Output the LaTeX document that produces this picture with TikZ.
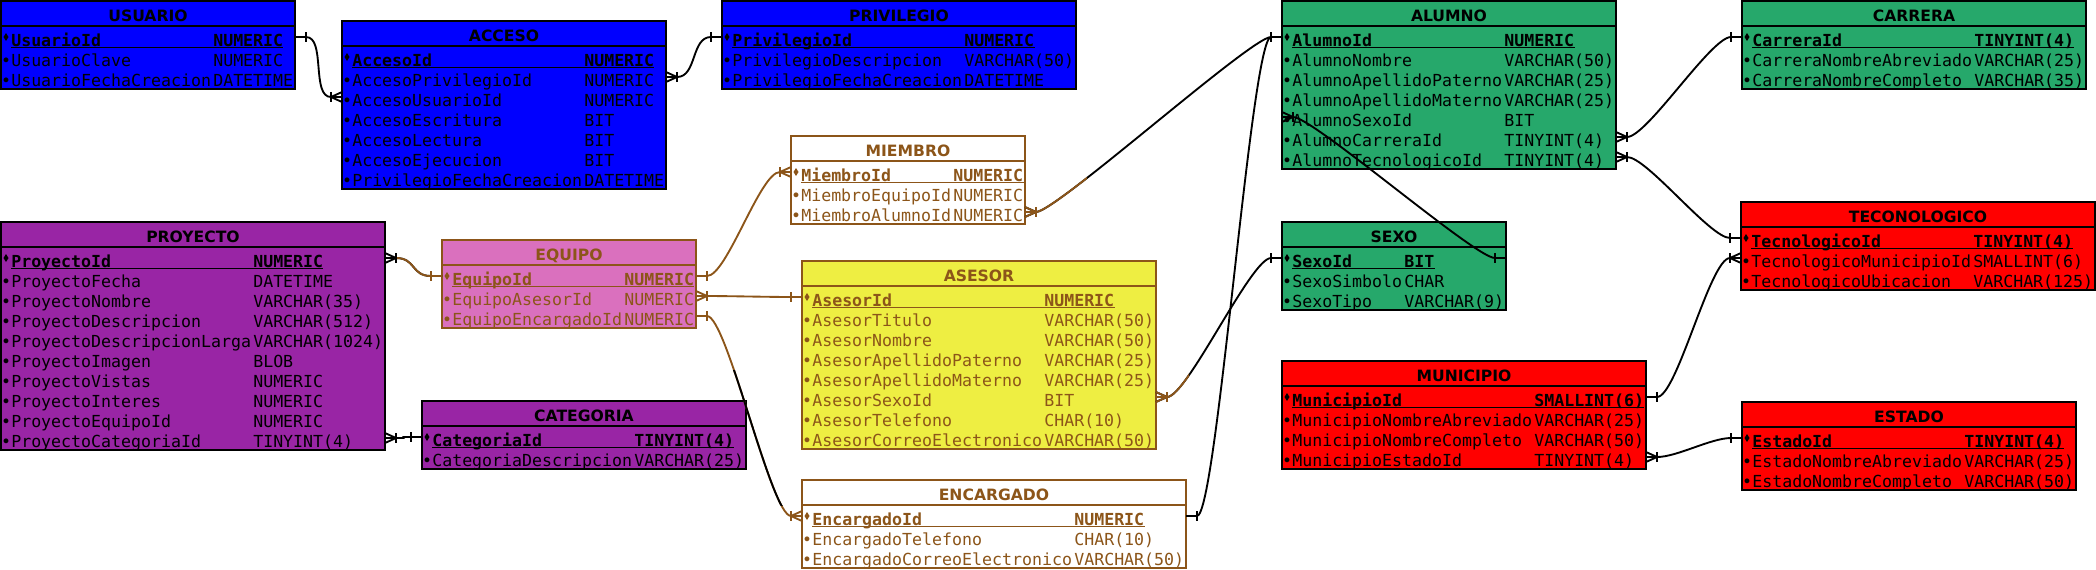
\documentclass[tikz,border=0pt]{standalone}
\usepackage{fontspec}
\setsansfont{DejaVu Sans}
\setmonofont{DejaVu Sans Mono}
\usetikzlibrary{calc}

\definecolor{tabblue}{RGB}{0,0,255}
\definecolor{tabgreen}{RGB}{38,168,107}
\definecolor{tabpurple}{RGB}{153,37,165}
\definecolor{tabpink}{RGB}{218,112,190}
\definecolor{tabyellow}{RGB}{238,238,66}
\definecolor{tabred}{RGB}{255,0,0}
\definecolor{tabbrown}{RGB}{140,85,25}

\tikzset{
  tabframe/.style = {draw, line width = 1.5pt, anchor = north west, inner sep = 0pt, outer sep = 0pt},
  tabtitle/.style = {anchor = base, inner sep = 0pt, font = \sffamily\bfseries\fontsize{11.7}{14}\selectfont},
  tabrow/.style = {inner sep = 0pt, outer sep = 0pt, minimum height = 12pt},
  tabfield/.style = {anchor = base west, inner sep = 0pt, font = \ttfamily\fontsize{12.45}{15}\selectfont},
  tabkey/.style = {tabfield, font = \ttfamily\bfseries\fontsize{12.45}{15}\selectfont},
  relline/.style = {line width = 1.4pt, line join = round},
}

% #1 name, #2 left, #3 top, #4 longest field name, #5 longest type, #6 fill, #7 line and text, #8 title, #9 fields
\newcommand{\ertable}[9]{%
  \foreach \f [count=\erk] in {#9} {\xdef\errows{\erk}}
  \pgfmathsetmacro{\ertw}{14+10*(#4+#5)}
  \pgfmathsetmacro{\erth}{28+20*\errows}
  \pgfmathsetmacro{\ertc}{12+10*#4}
  \node[tabframe, fill = #6, draw = #7, minimum width = \ertw*0.75pt, minimum height = \erth*0.75pt] (#1) at (#2,#3) {};
  \draw[line width = 1.5pt, #7] (#2,#3+25) -- ++(\ertw,0);
  \node[tabtitle, text = #7] at (#2+\ertw/2,#3+20.5) {#8};
  \foreach \fname/\ftype [count=\i] in {#9} {
    \pgfmathsetmacro{\errt}{#3+25+20*(\i-1)}
    \node[tabrow, minimum width = \ertw*0.75pt] (#1-\i) at (#2+\ertw/2,\errt+11) {};
    \ifnum\i=1
      \fill[#7] (#2+5,\errt+11) +(0,-4) -- +(2.5,0) -- +(0,4) -- +(-2.5,0) -- cycle;
      \node[tabkey, text = #7] (#1-\i-n) at (#2+10,\errt+20) {\fname};
      \node[tabkey, text = #7] (#1-\i-t) at (#2+\ertc,\errt+20) {\ftype};
      \draw[#7, line width = 0.8pt] ([yshift = -1.3pt]#1-\i-n.base west) -- ([yshift = -1.3pt]#1-\i-t.base east);
    \else
      \node[tabfield, text = #7, anchor = base] at (#2+5,\errt+20) {•};
      \node[tabfield, text = #7] at (#2+10,\errt+20) {\fname};
      \node[tabfield, text = #7] at (#2+\ertc,\errt+20) {\ftype};
    \fi
  }
}

\newcommand{\ercurve}[4][]{%
  \draw[relline, #1] (#2) -- ++({11*(#4)},0) .. controls +({20*(#4)},0) and +({-20*(#4)},0) .. ($(#3)+({-11*(#4)},0)$) -- (#3);}
\newcommand{\erbar}[3][]{%
  \draw[relline, #1] ($(#2)+({11*(#3)},-5)$) -- ++(0,10);}
\newcommand{\ercrow}[3][]{%
  \erbar[#1]{#2}{#3}
  \draw[relline, #1] ($(#2)+(0,-5)$) -- ($(#2)+({11*(#3)},0)$) -- ($(#2)+(0,5)$);}
% many end first, one end second
\newcommand{\erlink}[4][]{%
  \ercurve[#1]{#2}{#3}{#4}
  \ercrow[#1]{#2}{#4}
  \erbar[#1]{#3}{-(#4)}}

\begin{document}
\begin{tikzpicture}[x = 0.75pt, y = -0.75pt]
\useasboundingbox (0,0) rectangle (2096,569);

\ertable{usr}{1}{1}{20}{8}{tabblue}{black}{USUARIO}{UsuarioId/NUMERIC, UsuarioClave/NUMERIC, UsuarioFechaCreacion/DATETIME}
\ertable{acc}{342}{21}{23}{8}{tabblue}{black}{ACCESO}{AccesoId/NUMERIC, AccesoPrivilegioId/NUMERIC, AccesoUsuarioId/NUMERIC, AccesoEscritura/BIT, AccesoLectura/BIT, AccesoEjecucion/BIT, PrivilegioFechaCreacion/DATETIME}
\ertable{prv}{722}{1}{23}{11}{tabblue}{black}{PRIVILEGIO}{PrivilegioId/NUMERIC, PrivilegioDescripcion/VARCHAR(50), PrivilegioFechaCreacion/DATETIME}
\ertable{mbr}{791}{136}{15}{7}{white}{tabbrown}{MIEMBRO}{MiembroId/NUMERIC, MiembroEquipoId/NUMERIC, MiembroAlumnoId/NUMERIC}
\ertable{alu}{1282}{1}{21}{11}{tabgreen}{black}{ALUMNO}{AlumnoId/NUMERIC, AlumnoNombre/VARCHAR(50), AlumnoApellidoPaterno/VARCHAR(25), AlumnoApellidoMaterno/VARCHAR(25), AlumnoSexoId/BIT, AlumnoCarreraId/TINYINT(4), AlumnoTecnologicoId/TINYINT(4)}
\ertable{car}{1742}{1}{22}{11}{tabgreen}{black}{CARRERA}{CarreraId/TINYINT(4), CarreraNombreAbreviado/VARCHAR(25), CarreraNombreCompleto/VARCHAR(35)}
\ertable{pro}{1}{222}{24}{13}{tabpurple}{black}{PROYECTO}{ProyectoId/NUMERIC, ProyectoFecha/DATETIME, ProyectoNombre/VARCHAR(35), ProyectoDescripcion/VARCHAR(512), ProyectoDescripcionLarga/VARCHAR(1024), ProyectoImagen/BLOB, ProyectoVistas/NUMERIC, ProyectoInteres/NUMERIC, ProyectoEquipoId/NUMERIC, ProyectoCategoriaId/TINYINT(4)}
\ertable{equ}{442}{240}{17}{7}{tabpink}{tabbrown}{EQUIPO}{EquipoId/NUMERIC, EquipoAsesorId/NUMERIC, EquipoEncargadoId/NUMERIC}
\ertable{ase}{802}{261}{23}{11}{tabyellow}{tabbrown}{ASESOR}{AsesorId/NUMERIC, AsesorTitulo/VARCHAR(50), AsesorNombre/VARCHAR(50), AsesorApellidoPaterno/VARCHAR(25), AsesorApellidoMaterno/VARCHAR(25), AsesorSexoId/BIT, AsesorTelefono/CHAR(10), AsesorCorreoElectronico/VARCHAR(50)}
\ertable{cat}{422}{401}{20}{11}{tabpurple}{black}{CATEGORIA}{CategoriaId/TINYINT(4), CategoriaDescripcion/VARCHAR(25)}
\ertable{enc}{802}{480}{26}{11}{white}{tabbrown}{ENCARGADO}{EncargadoId/NUMERIC, EncargadoTelefono/CHAR(10), EncargadoCorreoElectronico/VARCHAR(50)}
\ertable{sex}{1282}{222}{11}{10}{tabgreen}{black}{SEXO}{SexoId/BIT, SexoSimbolo/CHAR, SexoTipo/VARCHAR(9)}
\ertable{mun}{1282}{361}{24}{11}{tabred}{black}{MUNICIPIO}{MunicipioId/SMALLINT(6), MunicipioNombreAbreviado/VARCHAR(25), MunicipioNombreCompleto/VARCHAR(50), MunicipioEstadoId/TINYINT(4)}
\ertable{tec}{1741}{202}{22}{12}{tabred}{black}{TECONOLOGICO}{TecnologicoId/TINYINT(4), TecnologicoMunicipioId/SMALLINT(6), TecnologicoUbicacion/VARCHAR(125)}
\ertable{est}{1742}{402}{21}{11}{tabred}{black}{ESTADO}{EstadoId/TINYINT(4), EstadoNombreAbreviado/VARCHAR(25), EstadoNombreCompleto/VARCHAR(50)}

% relations
\erlink{acc-3.west}{usr-1.east}{-1}
\erlink{acc-2.east}{prv-1.west}{1}
\erlink{mbr-3.east}{alu-1.west}{1}
\begin{scope}
  \clip ($(mbr-3.east)+(-4,20)$) rectangle ($(mbr-3.east)+(62,-60)$);
  \erlink[tabbrown]{mbr-3.east}{alu-1.west}{1}
\end{scope}
\ercurve{enc-1.east}{alu-1.west}{1}
\erbar{enc-1.east}{1}
\erlink{alu-5.west}{sex-1.east}{1}
\erlink{ase-6.east}{sex-1.west}{1}
\begin{scope}
  \clip ($(ase-6.east)+(-4,20)$) rectangle ($(ase-6.east)+(33,-40)$);
  \erlink[tabbrown]{ase-6.east}{sex-1.west}{1}
\end{scope}
\erlink{alu-6.east}{car-1.west}{1}
\erlink{alu-7.east}{tec-1.west}{1}
\erlink{tec-2.west}{mun-1.east}{-1}
\erlink{mun-4.east}{est-1.west}{1}
\erlink{pro-1.east}{equ-1.west}{1}
\begin{scope}
  \clip ($(pro-1.east)+(12,-20)$) rectangle ($(equ-1.west)+(2,20)$);
  \erlink[tabbrown]{pro-1.east}{equ-1.west}{1}
\end{scope}
\erlink{pro-10.east}{cat-1.west}{1}
\erlink[tabbrown]{mbr-1.west}{equ-1.east}{-1}
\erlink[tabbrown]{equ-2.east}{ase-1.west}{1}
\erlink[tabbrown]{enc-1.west}{equ-3.east}{-1}
\begin{scope}
  \clip ($(equ-3.east)+(0,54)$) rectangle ($(enc-1.west)+(-13,-11)$);
  \erlink{enc-1.west}{equ-3.east}{-1}
\end{scope}
\end{tikzpicture}
\end{document}
